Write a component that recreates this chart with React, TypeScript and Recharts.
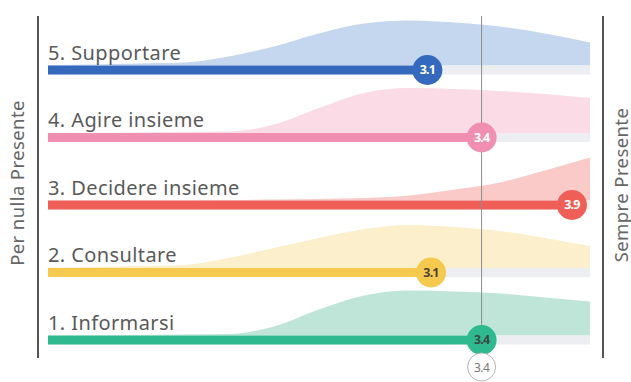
import React from 'react';
import {
  ComposedChart,
  Area,
  Line,
  Scatter,
  XAxis,
  YAxis,
  ReferenceLine,
} from 'recharts';

// ---- data ----
const rowLabels = ['1. Informarsi', '2. Consultare', '3. Decidere insieme', '4. Agire insieme', '5. Supportare'];
const rowPositions = [1, 2, 3, 4, 5];
const rowMeans = [3.4, 3.12, 3.9, 3.4, 3.1];
const overallMean = 3.4;

const xGrid = [1, 1.25, 1.5, 1.75, 2, 2.25, 2.5, 2.75, 3, 3.25, 3.5, 3.75, 4];
const densityInformarsi = [0, 0, 0.5, 1, 1.5, 9, 26, 40, 45, 44, 42, 38, 34];
const densityConsultare = [0.5, 1, 2, 3, 10, 20, 30, 39, 43, 41, 37, 30, 22];
const densityDecidere = [0, 0, 0, 0, 0.5, 1, 1.5, 2.5, 5, 11, 18, 30, 43];
const densityAgire = [0, 0, 0.5, 1, 1.5, 8.5, 25, 40, 45, 44, 42, 39, 35];
const densitySupportare = [0.5, 1, 2, 3, 9, 19, 32, 42, 45, 43, 39, 32, 23];

// ---- styles ----
const FONT = '"Noto Sans", "Open Sans", sans-serif';
const barColors = ['#2fb98e', '#f5c84e', '#ef5f58', '#f08fb1', '#3569bd'];
const areaColors = ['#bfe5d8', '#fcefcb', '#f9cac7', '#fadbe6', '#c4d7ee'];
const valueTextColors = ['#3d4a44', '#4a4536', '#ffffff', '#ffffff', '#ffffff'];
const TRACK = '#eceef1';
const ROW_PX = 67.5;
const DENSITY_K = 1 / ROW_PX;
const BASE_OFFSET = 4.5 / ROW_PX;

const densities = [densityInformarsi, densityConsultare, densityDecidere, densityAgire, densitySupportare];

const chartData = xGrid.map((x, i) => {
  const o: any = { x };
  densities.forEach((d, r) => {
    o['d' + r] = d[i];
  });
  return o;
});

const ValueDot = (props: any) => {
  const { cx, cy, payload } = props;
  if (cx == null || cy == null) return null;
  const r = payload.r;
  return (
    <g>
      <circle cx={cx} cy={cy} r={15} fill={barColors[r]} />
      <text
        x={cx}
        y={cy}
        dy={4.5}
        textAnchor="middle"
        fontFamily={FONT}
        fontSize={12.5}
        fontWeight={700}
        letterSpacing={-0.8}
        fill={valueTextColors[r]}
      >
        {payload.v.toFixed(1)}
      </text>
    </g>
  );
};

const RowLabel = (props: any) => {
  const { cx, cy, payload } = props;
  if (cx == null || cy == null) return null;
  return (
    <text x={cx} y={cy - 10} fontFamily={FONT} fontSize={20} fill="#5a5a5a" letterSpacing={0.4}>
      {payload.label}
    </text>
  );
};

const MeanTick = (props: any) => {
  const { x, y, payload } = props;
  return (
    <g>
      <circle cx={x} cy={y + 1} r={14} fill="#ffffff" stroke="#b5b5b5" strokeWidth={1} />
      <text x={x} y={y + 1} dy={4.5} textAnchor="middle" fontFamily={FONT} fontSize={12} fill="#777" letterSpacing={-0.6}>
        {Number(payload.value).toFixed(1)}
      </text>
    </g>
  );
};

const SideLabel = (text: string, side: 'left' | 'right') => (props: any) => {
  const vb = props.viewBox || {};
  const cx = side === 'left' ? vb.x + vb.width - 22 : vb.x + 17;
  const cy = side === 'left' ? vb.y + vb.height / 2 - 4 : vb.y + vb.height / 2 - 2;
  return (
    <text
      x={cx}
      y={cy}
      transform={`rotate(-90, ${cx}, ${cy})`}
      textAnchor="middle"
      dominantBaseline="central"
      fontFamily={FONT}
      fontSize={18.5}
      letterSpacing={0.4}
      fill="#666"
    >
      {text}
    </text>
  );
};

export default function App() {
  const dotData = rowPositions.map((y, r) => ({ x: rowMeans[r], y, r, v: rowMeans[r] }));
  const labelData = rowPositions.map((y, r) => ({ x: 1, y, label: rowLabels[r] }));
  return (
    <div style={{ position: 'absolute', left: 0, top: 0, background: '#fff' }}>
      <ComposedChart
        width={631}
        height={382}
        data={chartData}
        margin={{ top: 16, right: 0, bottom: 0, left: 0 }}
      >
        <XAxis
          dataKey="x"
          type="number"
          domain={[1, 4]}
          padding={{ left: 10, right: 13 }}
          ticks={[overallMean]}
          tick={<MeanTick />}
          axisLine={false}
          tickLine={false}
          height={24}
          allowDataOverflow
        />
        <YAxis
          yAxisId="left"
          type="number"
          domain={[0.7333, 5.8]}
          allowDataOverflow
          tick={false}
          tickLine={false}
          width={38}
          axisLine={{ stroke: '#555', strokeWidth: 2 }}
          label={{ content: SideLabel('Per nulla Presente', 'left') }}
        />
        <YAxis
          yAxisId="right"
          orientation="right"
          type="number"
          domain={[0.7333, 5.8]}
          allowDataOverflow
          tick={false}
          tickLine={false}
          width={28}
          axisLine={{ stroke: '#555', strokeWidth: 2 }}
          label={{ content: SideLabel('Sempre Presente', 'right') }}
        />
        {rowPositions.map((row, r) => (
          <Area
            key={'area' + r}
            yAxisId="left"
            type="monotone"
            dataKey={(e: any) => [row + BASE_OFFSET, row + BASE_OFFSET + e['d' + r] * DENSITY_K]}
            stroke="none"
            fill={areaColors[r]}
            fillOpacity={1}
            isAnimationActive={false}
            activeDot={false}
          />
        ))}
        {rowPositions.map((row, r) => (
          <Line
            key={'track' + r}
            yAxisId="left"
            data={[{ x: 1, y: row }, { x: 4, y: row }]}
            dataKey="y"
            stroke={TRACK}
            strokeWidth={9}
            dot={false}
            activeDot={false}
            isAnimationActive={false}
          />
        ))}
        {rowPositions.map((row, r) => (
          <Line
            key={'bar' + r}
            yAxisId="left"
            data={[{ x: 1, y: row }, { x: rowMeans[r], y: row }]}
            dataKey="y"
            stroke={barColors[r]}
            strokeWidth={9}
            dot={false}
            activeDot={false}
            isAnimationActive={false}
          />
        ))}
        <ReferenceLine yAxisId="left" x={overallMean} stroke="#8c8c8c" strokeWidth={1} />
        <Scatter
          yAxisId="left"
          data={dotData}
          dataKey="y"
          shape={<ValueDot />}
          isAnimationActive={false}
        />
        <Scatter
          yAxisId="left"
          data={labelData}
          dataKey="y"
          shape={<RowLabel />}
          isAnimationActive={false}
        />
      </ComposedChart>
    </div>
  );
}
